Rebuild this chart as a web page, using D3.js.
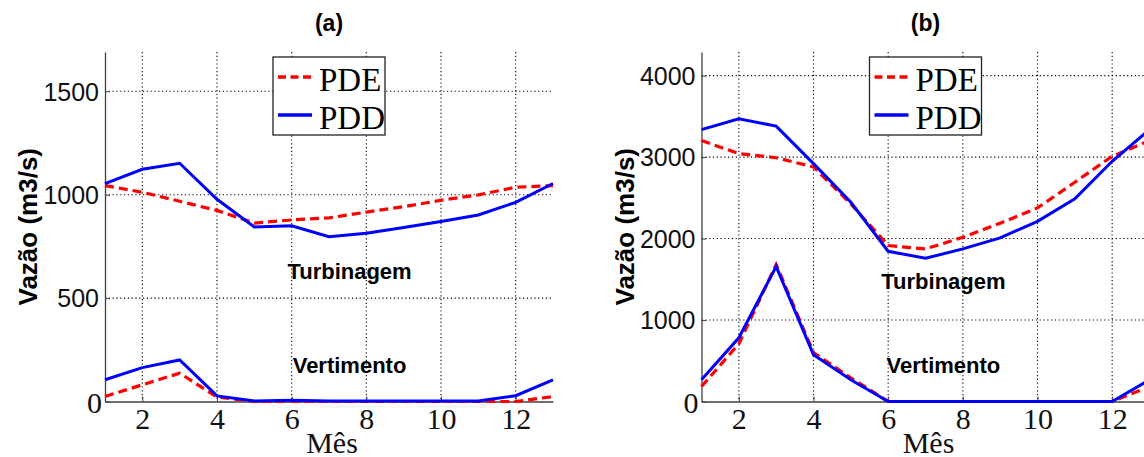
<!DOCTYPE html>
<html>
<head>
<meta charset="utf-8">
<script src="https://cdn.jsdelivr.net/npm/d3@7"></script>
<style>
body { margin: 0; background: #fff; }
svg { display: block; }
</style>
</head>
<body>
<svg></svg>
<script>
// meses (o 13 fecha o ciclo)
const months = [1, 2, 3, 4, 5, 6, 7, 8, 9, 10, 11, 12, 13];
const xTicks = [2, 4, 6, 8, 10, 12];

// (a)
const turbPDE_a = [1044, 1012, 968, 924, 863, 878, 888, 916, 942, 973, 999, 1036, 1044];
const turbPDD_a = [1054, 1123, 1152, 978, 844, 850, 797, 814, 841, 870, 902, 963, 1054];
const vertPDE_a = [24, 81, 137, 22, 0, 0, 0, 0, 0, 0, 0, 0, 24];
const vertPDD_a = [105, 164, 201, 27, 2, 6, 2, 2, 2, 2, 2, 28, 105];
const yTicks_a = [0, 500, 1000, 1500];

// (b)
const turbPDE_b = [3203, 3043, 2992, 2880, 2425, 1914, 1873, 2016, 2188, 2376, 2691, 3010, 3203];
const turbPDD_b = [3337, 3469, 3380, 2920, 2446, 1844, 1758, 1873, 2008, 2212, 2487, 2949, 3337];
const vertPDE_b = [184, 708, 1681, 600, 290, 0, 0, 0, 0, 0, 0, 0, 184];
const vertPDD_b = [266, 782, 1656, 573, 266, 0, 0, 0, 0, 0, 0, 0, 266];
const yTicks_b = [0, 1000, 2000, 3000, 4000];

const legendNames = ["PDE", "PDD"];

const sans = "'Liberation Sans', Arial, Helvetica, sans-serif";
const serif = "'Liberation Serif', 'Times New Roman', serif";

const svg = d3.select("svg").attr("width", 1144).attr("height", 457);

// tamanho dos eixos
const axTop = 52,
    width = 448,
    height = 349.5;

const panels = [
    {
        left: 105, title: "(a)", yMax: 1690, yTicks: yTicks_a,
        pde: [turbPDE_a, vertPDE_a], pdd: [turbPDD_a, vertPDD_a],
        notes: [["Turbinagem", 7.55, 590], ["Vertimento", 7.55, 138]]
    },
    {
        left: 701.5, title: "(b)", yMax: 4290, yTicks: yTicks_b,
        pde: [turbPDE_b, vertPDE_b], pdd: [turbPDD_b, vertPDD_b],
        notes: [["Turbinagem", 7.48, 1381], ["Vertimento", 7.48, 350]]
    }
];

panels.forEach(p => {
    const g = svg.append("g").attr("transform", "translate(" + p.left + "," + axTop + ")");

    const x = d3.scaleLinear().domain([1, 13]).range([0, width]);
    const y = d3.scaleLinear().domain([0, p.yMax]).range([height, 0]);

    // grade pontilhada
    g.append("g").selectAll("line").data(xTicks).join("line")
        .attr("x1", d => x(d)).attr("x2", d => x(d))
        .attr("y1", 0).attr("y2", height)
        .attr("stroke", "#000").attr("stroke-width", 1.1).attr("stroke-dasharray", "1.2,2.6");
    g.append("g").selectAll("line").data(p.yTicks.filter(d => d > 0)).join("line")
        .attr("x1", 0).attr("x2", width)
        .attr("y1", d => y(d)).attr("y2", d => y(d))
        .attr("stroke", "#000").attr("stroke-width", 1.1).attr("stroke-dasharray", "1.2,2.6");

    // eixos
    const xAxis = g.append("g")
        .attr("transform", "translate(0," + height + ")")
        .call(d3.axisBottom(x).tickValues(xTicks).tickFormat(d3.format("d"))
            .tickSize(-5).tickSizeOuter(0));
    xAxis.selectAll("text")
        .style("font-family", serif).style("font-size", "30px")
        .attr("y", 27).attr("dy", 0);

    const yAxis = g.append("g")
        .call(d3.axisLeft(y).tickValues(p.yTicks).tickFormat(d3.format("d"))
            .tickSize(-5).tickSizeOuter(0).tickPadding(6));
    yAxis.selectAll("text")
        .style("font-family", d => d === 0 ? serif : sans)
        .style("font-size", d => d === 0 ? "30px" : "25px")
        .attr("x", d => d === 0 ? -3 : -6)
        .attr("dy", "0.35em");

    [xAxis, yAxis].forEach(a => {
        a.attr("color", "#404040");
        a.select(".domain").attr("stroke-width", 1.3);
        a.selectAll("text").attr("fill", "#111");
    });

    // séries
    const line = d3.line().x(d => x(d[0])).y(d => y(d[1]));
    p.pde.forEach(s => {
        g.append("path").datum(d3.zip(months, s)).attr("d", line)
            .attr("fill", "none").attr("stroke", "#ff0000").attr("stroke-width", 3.2)
            .attr("stroke-dasharray", "9,5");
    });
    p.pdd.forEach(s => {
        g.append("path").datum(d3.zip(months, s)).attr("d", line)
            .attr("fill", "none").attr("stroke", "#0000ff").attr("stroke-width", 3);
    });

    // anotações
    p.notes.forEach(n => {
        g.append("text").attr("x", x(n[1])).attr("y", y(n[2]))
            .attr("text-anchor", "middle").attr("font-family", sans)
            .attr("font-weight", "bold").attr("font-size", 22).text(n[0]);
    });

    // título e rótulos
    g.append("text").attr("x", width / 2).attr("y", -21)
        .attr("text-anchor", "middle").attr("font-family", sans)
        .attr("font-weight", "bold").attr("font-size", 23).text(p.title);

    g.append("text").attr("transform", "translate(-68," + (height / 2) + ") rotate(-90)")
        .attr("text-anchor", "middle").attr("font-family", sans)
        .attr("font-weight", "bold").attr("font-size", 26).text("Vazão (m3/s)");

    g.append("text").attr("x", width / 2 + 3).attr("y", height + 51)
        .attr("text-anchor", "middle").style("font-family", serif)
        .attr("font-size", 30).attr("fill", "#111").text("Mês");

    // legenda
    const lg = g.append("g").attr("transform", "translate(168,5)");
    lg.append("rect").attr("width", 112).attr("height", 78)
        .attr("fill", "#fff").attr("stroke", "#222").attr("stroke-width", 1.3);
    legendNames.forEach((name, i) => {
        const ly = 20 + i * 38;
        lg.append("line").attr("x1", 5).attr("x2", 39).attr("y1", ly).attr("y2", ly)
            .attr("stroke", i === 0 ? "#ff0000" : "#0000ff")
            .attr("stroke-width", i === 0 ? 3.6 : 3.4)
            .attr("stroke-dasharray", i === 0 ? "8,4.5" : null);
        lg.append("text").attr("x", 46).attr("y", ly + 13.5)
            .attr("font-family", serif).attr("font-size", 33).text(name);
    });
});
</script>
</body>
</html>
